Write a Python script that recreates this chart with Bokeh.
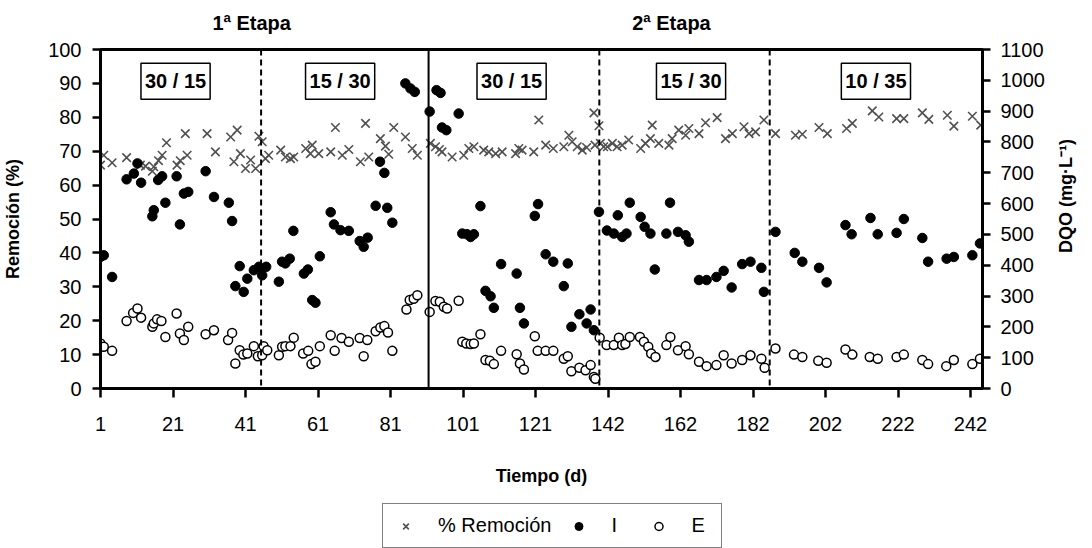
import math
from bokeh.plotting import figure
from bokeh.layouts import column
from bokeh.models import (Range1d, LinearAxis, FixedTicker, Span, Label, Legend, LegendItem)
from bokeh.embed import file_html
from bokeh.resources import INLINE

FONT = "Liberation Sans"

# x positions are category indices (1 = day 1); tick labels map index -> day
tick_pos = [1, 21, 41, 61, 81, 101, 121, 141, 161, 181, 201, 221, 241]
tick_lbl = ["1", "21", "41", "61", "81", "101", "121", "142", "162", "182", "202", "222", "242"]

rem_x = [1, 1.9, 4.2, 8.2, 12, 13.4, 15.3, 15.7, 17, 18, 19.2, 22.1, 23, 24.4, 24.9, 30.4, 32.7, 36.9, 37.8, 38.7,
         39.6, 41, 42.4, 43.8, 44.7, 45.6, 46.5,
         47.4, 50.7, 52, 53.4, 54.3, 57.6, 58.9, 59.4, 61.2, 64.5, 65.8, 67.7, 69.5, 72.7, 74.1, 75, 78.2, 79.6, 80.5,
         81.9, 85.1, 87, 88.4, 92,
         93.4, 94.5, 95.2, 98, 101.2, 102.6, 104, 106.7, 108.1, 110, 111.8, 115.5, 116.4, 117.3, 120.5, 121.9, 123.8,
         125.9, 128.8, 130.2, 131.1, 132.5, 133.9, 135.1, 137.1, 138.5, 137.4, 138.9, 139.8,
         140.8, 142.2, 143.5, 144.9, 146.7, 150, 151.3, 152.7, 153.2, 155, 157.8, 158.7, 160.5, 162.4, 163.3, 166.1,
         167.9, 171.1, 173.4, 175.3, 178.5, 179.9, 181.7, 184, 187.2,
         192.7, 194.6, 199.2, 201.5, 206.8, 208.4, 213.9, 215.7, 220.6, 222.6, 227.7, 229.5, 234.6, 236.4, 241.5, 243.8]
rem_y = [65.9, 68.8, 66.6, 68.1, 65.9, 65.6, 64.1, 65.4, 67.2, 68.8, 72.5, 65.9, 67.2, 75.2, 68.8, 75.2, 69.8, 74.2, 66.9, 76.2,
         69.3, 64.9, 67.4, 64.9, 74.4, 72.8, 67.8,
         68.8, 70.3, 68.3, 67.8, 68.3, 70.8, 69.3, 71.8, 69.3, 69.8, 77, 68.8, 70.5, 66.9, 78.2, 68.3, 73.7, 71.5, 69.1,
         77, 74.2, 70.8, 68.8, 72.3,
         71.3, 70.5, 69.8, 68.3, 68.8, 70.8, 71.3, 70.3, 69.8, 69.3, 69.8, 69.3, 70.8, 70.3, 69.8, 79.2, 71.8,
         70.8, 71.3, 74.7, 72.8, 71.3, 70.3, 71.1, 81.3, 77.5, 71.8, 72.3, 71.3,
         71.3, 72.3, 71.3, 71.8, 73.3, 70.8, 72.3, 73.7, 77.7, 72.3, 71.8, 73.7, 76.2, 74.7, 76.7, 75.2,
         78.4, 79.9, 73.7, 75.2, 77.2, 75.2, 75.7, 79.2, 75.2,
         74.7, 75, 77, 75.2, 76.7, 78.2, 81.9, 80.1, 79.6, 79.6, 81.3, 79.4, 80.6, 77.4, 80.3, 77.7]

inf_x = [1, 1.9, 4.2, 8.2, 10.2, 11.2, 12.2, 15.3, 15.7, 16.9, 18, 18.9, 22, 22.9, 24, 25.2, 30, 32.3, 36.4, 37.3, 38.2,
         39.4, 40.5, 41.5, 43.3, 44.7, 45.6, 46.7,
         50.2, 51.1, 52, 53.2, 54.2, 57.1, 58.2, 59.4, 60.3, 61.5, 64.5, 65.4, 67.2, 69.5, 72.5, 73.6, 74.7, 76.9, 78.1,
         79.3, 80.1, 81.5, 85.1, 86.5, 87.7, 91.8, 93.7, 94.8,
         95.2, 96.4, 99.8, 100.8, 102.1, 103.1, 104, 105.8, 107.2, 108.6, 109.5, 111.5, 115.8, 116.7, 117.8, 120.8,
         121.7, 123.8, 125.9, 128.8, 129.9, 130.9, 133.1, 135.1, 136.2, 137.1, 138.5, 140.7,
         142.6, 143.7, 144.9, 146.1, 147, 150, 151.1, 152.7, 153.9, 157.1, 158.1, 160.3, 162.4, 163.3, 166.1, 168.2,
         170.9, 172.9, 175.1, 178, 180.3, 183.3, 184, 187.2,
         192.5, 194.6, 199.2, 201.3, 206.5, 208.2, 213.4, 215.4, 220.6, 222.6, 227.7, 229.3, 234.4, 236.4, 241.5, 243.6]
inf_y = [38.8, 39.3, 32.9, 61.7, 63.4, 66.4, 60.7, 50.8, 52.6, 61.5, 62.6, 54.8, 62.6, 48.4, 57.5, 58, 64.1, 56.5, 54.8, 49.4, 30.2,
         36.1, 28.5, 32.4, 34.9, 35.9, 33.4, 35.9,
         31.5, 37.4, 36.9, 38.3, 46.5, 33.9, 35.1, 26.1, 25.3, 39, 52, 48.4, 46.7, 46.5, 43.5, 41.8, 44.5, 53.9, 66.9,
         63.6, 53.3, 48.9, 90, 88.5, 87.5, 81.7, 88, 87.2,
         77, 76.2, 81.1, 45.7, 45.5, 44.7, 45.5, 53.8, 28.8, 27.2, 23.8, 36.7, 33.9, 23.8, 19.2, 50.9,
         54.4, 39.6, 37.4, 30.2, 36.9, 18.2, 21.9, 19.2, 23.3, 17.2, 52.1, 46.6,
         45.7, 51.1, 44.7, 45.7, 54.8, 50.6, 47.7, 45.7, 35.1, 45.7, 54.8, 46.2, 45.2, 43.3, 32, 32,
         32.9, 34.7, 29.8, 36.7, 37.4, 35.6, 28.5, 46.2,
         40, 37.4, 35.6, 31.3, 48.2, 45.5, 50.3, 45.5, 45.9, 50, 44.4, 37.4, 38.3, 38.8, 39.3, 42.8]

eff_x = [1, 1.9, 4.2, 8.2, 10, 11.2, 12.2, 15.3, 15.7, 16.6, 17.8, 18.9, 22, 22.9, 24, 25.2, 30, 32.3, 36.2, 37.3, 38.2,
         39.4, 40.4, 41.5, 43.3, 44.4, 45.6, 46, 47,
         50.2, 51.1, 52, 53.4, 54.3, 56.9, 58.3, 59.2, 60.3, 61.5, 64.5, 65.6, 67.5, 69.5, 72.5, 73.6, 74.6, 76.9, 78.2,
         79.3, 80.3, 81.5, 85.4, 86.3, 87.4, 88.4, 91.8, 93.4,
         94.6, 95.7, 96.6, 99.8, 100.8, 101.9, 103.1, 104, 105.8, 107.2, 108.4, 109.5, 111.5, 115.8, 116.7, 117.8,
         120.8, 121.6, 123.8, 125.9, 128.8, 129.9, 130.9, 133.1, 134.8, 136.2, 137.1, 137.5, 138.7, 140.6,
         142.6, 144, 144.9, 145.8, 147, 149.8, 150.9, 152.1, 152.9, 154.1, 157.1, 158.2, 160.3, 162.4, 163.3, 166.1,
         168.2, 170.9, 172.9, 175.1, 178, 180.3, 183.3, 184.2, 187.2,
         192.3, 194.6, 199, 201.3, 206.5, 208.4, 213.2, 215.4, 220.6, 222.6, 227.7, 229.3, 234.3, 236.4, 241.5, 243.6]
eff_y = [13.3, 12.3, 11.1, 19.9, 22.3, 23.6, 20.9, 18.2, 19.2, 20.4, 19.9, 15.2, 22.1, 16.2, 14.3, 18.2, 16, 17.2, 14.3, 16.4, 7.4,
         11.3, 10, 10.3, 12.5, 9.5, 9.8, 12.5, 11.3,
         9.8, 12.3, 12.5, 12.5, 15, 10.3, 11.1, 7.2, 7.9, 12.5, 15.7, 11.1, 14.9, 13.8, 14.9, 9.5, 14.3, 16.9, 18,
         18.4, 16.5, 11.1, 23.3, 26.1, 26.5, 27.5, 22.6, 25.8,
         25.6, 24.1, 23.6, 25.9, 13.8, 13.3, 13.1, 13.3, 16, 8.4, 8.2, 7.2, 11.1, 10.1, 7.4, 5.6,
         15.4, 11.1, 11.1, 11.1, 8.8, 9.5, 5.1, 6.1, 5.4, 6.9, 3.4, 2.9, 15, 12.8,
         12.8, 15, 12.8, 13.1, 15.2, 15.2, 13.8, 12.3, 10.3, 9.3, 12.8, 15.2, 11.3, 12.5, 10.1, 7.9,
         6.6, 6.9, 9.8, 7.4, 8.4, 9.8, 8.8, 6.1, 11.8,
         10, 9.3, 8.2, 7.6, 11.5, 10, 9.3, 8.8, 9.3, 10, 8.4, 7.2, 6.6, 8.4, 7.2, 8.8]

series_names = ["% Remoción", "I", "E"]
stage_lines = [45.3, 91.5, 138.6, 185.6]
stage_styles = ["dashed", "solid", "dashed", "dashed"]
box_labels = ["30 / 15", "15 / 30", "30 / 15", "15 / 30", "10 / 35"]
box_pos = [21.7, 67.1, 114.4, 163.9, 214.9]
etapa_labels = ["1ª Etapa", "2ª Etapa"]
etapa_pos = [42.7, 158.5]
dqo_title = "DQO (mg·L⁻¹)"

REM_STYLE = dict(marker="x", size=12, line_color="#505050", line_width=1.6)
INF_STYLE = dict(marker="circle", size=9.5, fill_color="black", line_color="black")
EFF_STYLE = dict(marker="circle", size=9, fill_color="white", line_color="black", line_width=1.5)

p = figure(width=1092, height=488, output_backend="svg", toolbar_location=None,
           x_range=Range1d(1, 244.3), y_range=Range1d(0, 100),
           min_border_left=100, min_border_right=110, min_border_top=49, min_border_bottom=100)
p.extra_y_ranges = {"dqo": Range1d(0, 1100)}
p.xgrid.visible = False
p.ygrid.visible = False
p.outline_line_color = "black"
p.outline_line_width = 3
p.background_fill_color = "white"
p.border_fill_color = "white"

def style_axis(ax):
    ax.axis_line_width = 3
    ax.axis_line_color = "black"
    ax.major_tick_line_width = 2.5
    ax.major_tick_in = 0
    ax.major_tick_out = 8
    ax.minor_tick_line_color = None
    ax.major_label_text_font = FONT
    ax.major_label_text_font_size = "20px"
    ax.major_label_text_color = "black"
    ax.axis_label_text_font = FONT
    ax.axis_label_text_font_style = "bold"
    ax.axis_label_text_font_size = "18px"
    ax.axis_label_text_color = "black"

xa = p.xaxis[0]
style_axis(xa)
xa.ticker = FixedTicker(ticks=tick_pos)
xa.major_label_overrides = {t: l for t, l in zip(tick_pos, tick_lbl)}
xa.axis_label = "Tiempo (d)"
xa.major_label_standoff = 19
xa.axis_label_standoff = 32
xa.major_tick_out = 9

ya = p.yaxis[0]
style_axis(ya)
ya.ticker = FixedTicker(ticks=list(range(0, 101, 10)))
ya.axis_label = "Remoción (%)"
ya.major_label_standoff = 11
ya.axis_label_standoff = 22

ra = LinearAxis(y_range_name="dqo")
style_axis(ra)
ra.ticker = FixedTicker(ticks=list(range(0, 1101, 100)))
ra.major_label_standoff = 10
p.add_layout(ra, "right")

# right-hand title, reading bottom-to-top, drawn as the single label of a bare axis
rt = LinearAxis(y_range_name="dqo", ticker=FixedTicker(ticks=[440]),
                major_label_overrides={440: dqo_title})
rt.axis_line_color = None
rt.major_tick_line_color = None
rt.minor_tick_line_color = None
rt.major_tick_out = 0
rt.major_tick_in = 0
rt.major_label_orientation = math.pi / 2
rt.major_label_standoff = 19
rt.major_label_text_font = FONT
rt.major_label_text_font_style = "bold"
rt.major_label_text_font_size = "18px"
rt.major_label_text_color = "black"
p.add_layout(rt, "right")

# stage titles above the frame, drawn as tick labels of a bare top axis
ta = LinearAxis(ticker=FixedTicker(ticks=etapa_pos),
                major_label_overrides={t: l for t, l in zip(etapa_pos, etapa_labels)})
ta.axis_line_color = None
ta.major_tick_line_color = None
ta.minor_tick_line_color = None
ta.major_tick_out = 0
ta.major_tick_in = 0
ta.major_label_standoff = 16
ta.major_label_text_font = FONT
ta.major_label_text_font_style = "bold"
ta.major_label_text_font_size = "20px"
ta.major_label_text_color = "black"
p.add_layout(ta, "above")

for loc, sty in zip(stage_lines, stage_styles):
    p.add_layout(Span(location=loc, dimension="height", line_color="black", line_width=2,
                      line_dash="6 4" if sty == "dashed" else "solid"))

p.scatter(rem_x, rem_y, **REM_STYLE)
p.scatter(inf_x, inf_y, **INF_STYLE)
p.scatter(eff_x, eff_y, **EFF_STYLE)

for t, xpos in zip(box_labels, box_pos):
    p.add_layout(Label(x=xpos, y=90.6, text=t, text_align="center", text_baseline="middle",
                       text_font=FONT, text_font_style="bold", text_font_size="20px", text_color="black",
                       background_fill_color="white", border_line_color="black", border_line_width=1.5,
                       padding=(4, 7)))

# legend strip below the chart (its renderers use the same series, outside the strip's view)
pl = figure(width=1092, height=60, output_backend="svg", toolbar_location=None,
            x_range=Range1d(0, 1), y_range=Range1d(-2, -1),
            x_axis_location=None, y_axis_location=None, min_border=0)
pl.xgrid.visible = False
pl.ygrid.visible = False
pl.outline_line_color = None
pl.border_fill_color = "white"
g1 = pl.scatter(rem_x, rem_y, **REM_STYLE)
g2 = pl.scatter(inf_x, inf_y, **INF_STYLE)
g3 = pl.scatter(eff_x, eff_y, **EFF_STYLE)
legend = Legend(items=[LegendItem(label=series_names[0], renderers=[g1]),
                       LegendItem(label=series_names[1], renderers=[g2]),
                       LegendItem(label=series_names[2], renderers=[g3])],
                orientation="horizontal", location=(282, 0),
                label_text_font=FONT, label_text_font_size="20px", label_text_color="black",
                glyph_width=25, glyph_height=20, label_standoff=20, spacing=15, padding=10,
                border_line_color="black", border_line_width=1, background_fill_color="white")
pl.add_layout(legend, "center")

layout = column(p, pl, spacing=0)
open("out.html", "w").write(file_html(layout, INLINE))
